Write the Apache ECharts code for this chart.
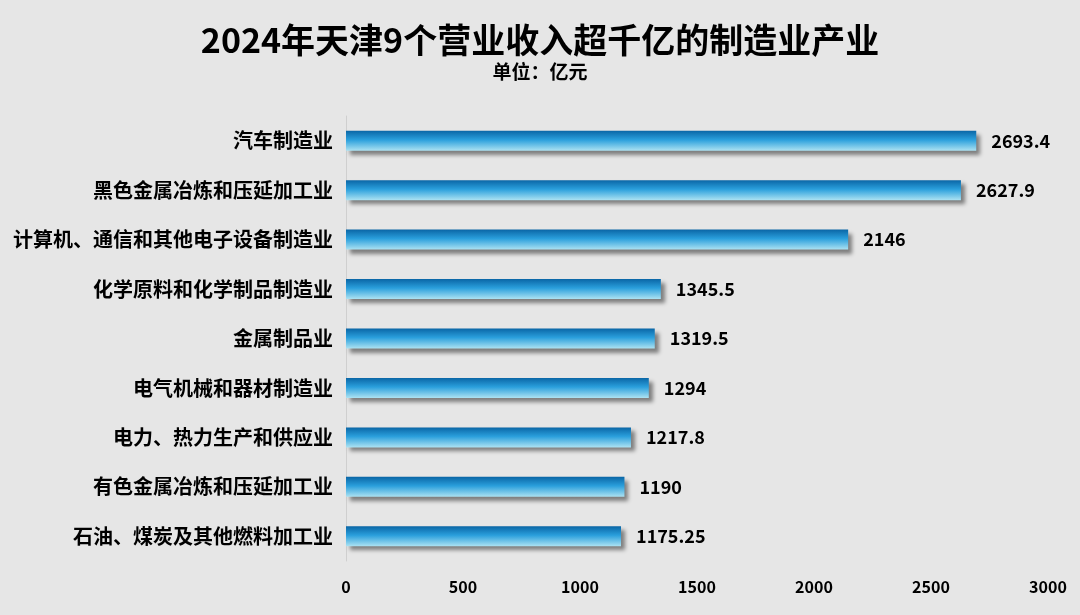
<!DOCTYPE html>
<html>
<head>
<meta charset="UTF-8">
<title>2024年天津9个营业收入超千亿的制造业产业</title>
<style>
    html, body { margin: 0; padding: 0; background: #e6e6e6; }
    #main { width: 1080px; height: 615px; }
</style>
</head>
<body>
<div id="main"></div>
<script src="https://cdn.jsdelivr.net/npm/echarts@6/dist/echarts.min.js"></script>
<script>
    var categories = [
        '汽车制造业',
        '黑色金属冶炼和压延加工业',
        '计算机、通信和其他电子设备制造业',
        '化学原料和化学制品制造业',
        '金属制品业',
        '电气机械和器材制造业',
        '电力、热力生产和供应业',
        '有色金属冶炼和压延加工业',
        '石油、煤炭及其他燃料加工业'
    ];
    var values = [2693.4, 2627.9, 2146, 1345.5, 1319.5, 1294, 1217.8, 1190, 1175.25];
    var xTicks = [0, 500, 1000, 1500, 2000, 2500, 3000];

    var font = '"Noto Sans CJK SC", "Noto Sans", sans-serif';
    var myChart = echarts.init(document.getElementById('main'));
    var option = {
        backgroundColor: '#e6e6e6',
        textStyle: { fontFamily: font },
        title: {
            text: '2024年天津9个营业收入超千亿的制造业产业',
            subtext: '单位：亿元',
            left: 'center',
            top: 18,
            itemGap: 5,
            textStyle: { fontSize: 34, fontWeight: 'bold', color: '#000', fontFamily: font },
            subtextStyle: { fontSize: 19, fontWeight: 'bold', color: '#000', fontFamily: font }
        },
        grid: { left: 346, right: 32, top: 116, bottom: 54, containLabel: false },
        xAxis: {
            type: 'value',
            min: xTicks[0],
            max: xTicks[xTicks.length - 1],
            interval: 500,
            axisLine: { show: false },
            axisTick: { show: false },
            splitLine: { show: false },
            axisLabel: {
                fontSize: 16, fontWeight: 'bold', color: '#000', margin: 18,
                formatter: function (v) { return String(v); }
            }
        },
        yAxis: {
            type: 'category',
            data: categories,
            inverse: true,
            axisLine: { show: true, lineStyle: { color: '#cfcfcf' } },
            axisTick: { show: false },
            axisLabel: { fontSize: 20, fontWeight: 'bold', color: '#000', margin: 13 }
        },
        series: [{
            type: 'bar',
            data: values,
            barWidth: 20,
            itemStyle: {
                color: new echarts.graphic.LinearGradient(0, 0, 0, 1, [
                    { offset: 0, color: '#0a66a6' },
                    { offset: 0.45, color: '#2a9fdc' },
                    { offset: 1, color: '#ace2f2' }
                ]),
                shadowColor: 'rgba(0, 0, 0, 0.45)',
                shadowBlur: 4,
                shadowOffsetX: 4,
                shadowOffsetY: 4
            },
            label: {
                show: true,
                position: 'right',
                distance: 15,
                fontSize: 18,
                fontWeight: 'bold',
                color: '#000'
            }
        }]
    };
    myChart.setOption(option);
</script>
</body>
</html>
